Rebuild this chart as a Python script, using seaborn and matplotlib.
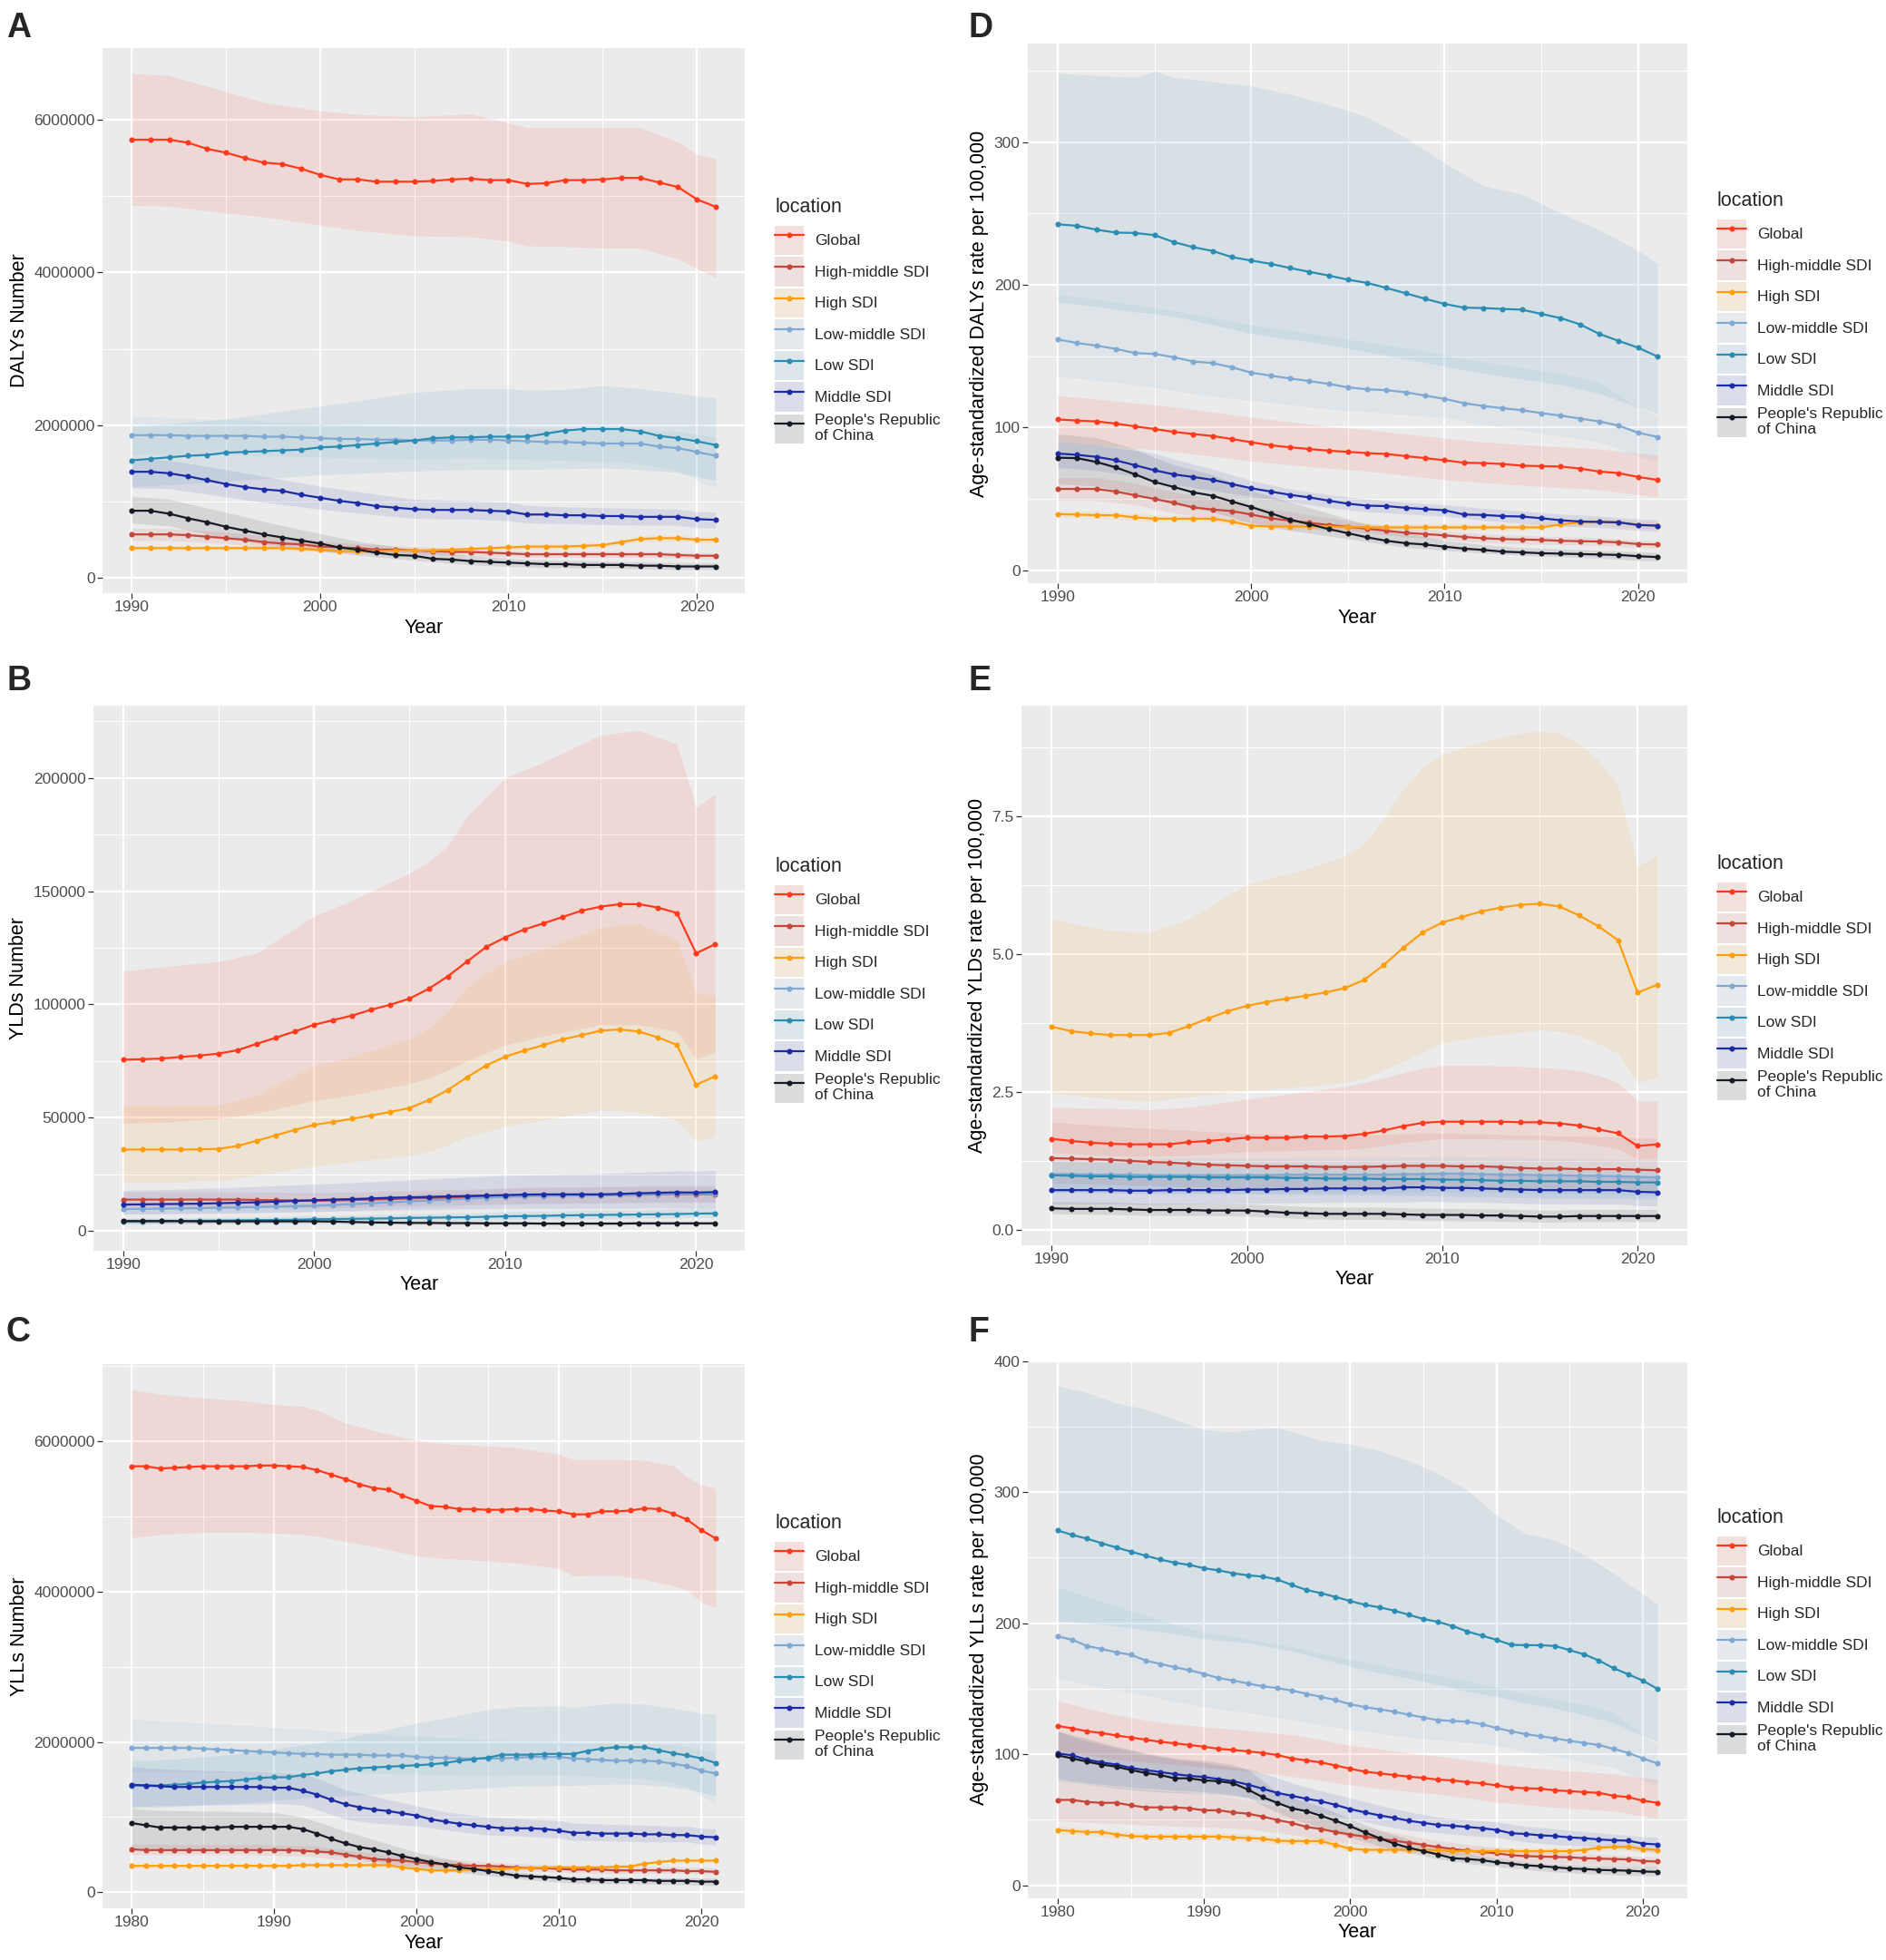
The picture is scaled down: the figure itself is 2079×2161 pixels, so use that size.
import numpy as np
import pandas as pd
import matplotlib
matplotlib.use("Agg")
import matplotlib.pyplot as plt
import seaborn as sns
from matplotlib.lines import Line2D
from matplotlib.patches import Patch
from matplotlib.legend_handler import HandlerTuple
from matplotlib.ticker import FixedLocator, FuncFormatter

# ---------------------------------------------------------------- data
YEARS = list(range(1990, 2022))
YEARS_LONG = list(range(1980, 2022))

LOCATIONS = ["Global", "High-middle SDI", "High SDI", "Low-middle SDI",
             "Low SDI", "Middle SDI", "People's Republic of China"]
LEGEND_LABELS = ["Global", "High-middle SDI", "High SDI", "Low-middle SDI",
                 "Low SDI", "Middle SDI", "People's Republic\nof China"]

# A: DALYs number (millions)
A_VAL = {
    "Global": [5.74, 5.74, 5.74, 5.70, 5.62, 5.57, 5.50, 5.44, 5.42, 5.36, 5.28, 5.22, 5.22, 5.19, 5.19, 5.19,
               5.20, 5.22, 5.23, 5.21, 5.21, 5.16, 5.17, 5.21, 5.21, 5.22, 5.24, 5.24, 5.18, 5.12, 4.96, 4.86],
    "High-middle SDI": [0.57, 0.57, 0.57, 0.56, 0.54, 0.52, 0.50, 0.47, 0.45, 0.44, 0.41, 0.40, 0.39, 0.37, 0.37, 0.36,
                        0.35, 0.34, 0.34, 0.33, 0.32, 0.31, 0.31, 0.31, 0.31, 0.31, 0.31, 0.31, 0.31, 0.30, 0.29, 0.29],
    "High SDI": [0.39, 0.39, 0.39, 0.39, 0.39, 0.39, 0.39, 0.39, 0.39, 0.38, 0.37, 0.35, 0.35, 0.35, 0.36, 0.36,
                 0.36, 0.37, 0.38, 0.39, 0.40, 0.41, 0.41, 0.41, 0.42, 0.43, 0.47, 0.51, 0.52, 0.52, 0.50, 0.50],
    "Low-middle SDI": [1.87, 1.87, 1.87, 1.86, 1.86, 1.86, 1.86, 1.85, 1.85, 1.84, 1.83, 1.82, 1.82, 1.81, 1.81, 1.80,
                       1.80, 1.80, 1.81, 1.81, 1.80, 1.79, 1.78, 1.78, 1.77, 1.76, 1.76, 1.76, 1.72, 1.70, 1.65, 1.60],
    "Low SDI": [1.54, 1.56, 1.58, 1.60, 1.61, 1.64, 1.65, 1.66, 1.67, 1.68, 1.71, 1.72, 1.74, 1.76, 1.78, 1.80,
                1.83, 1.84, 1.84, 1.85, 1.85, 1.85, 1.89, 1.93, 1.95, 1.95, 1.95, 1.92, 1.86, 1.83, 1.79, 1.74],
    "Middle SDI": [1.39, 1.39, 1.37, 1.33, 1.28, 1.23, 1.19, 1.16, 1.14, 1.09, 1.05, 1.01, 0.98, 0.94, 0.92, 0.90,
                   0.89, 0.89, 0.89, 0.88, 0.87, 0.83, 0.83, 0.82, 0.82, 0.81, 0.81, 0.80, 0.80, 0.80, 0.77, 0.76],
    "People's Republic of China": [0.88, 0.88, 0.84, 0.78, 0.73, 0.67, 0.62, 0.57, 0.53, 0.49, 0.45, 0.40, 0.37, 0.33,
                                   0.30, 0.29, 0.25, 0.24, 0.22, 0.21, 0.20, 0.19, 0.18, 0.18, 0.17, 0.17, 0.17, 0.16,
                                   0.16, 0.15, 0.15, 0.15],
}
A_BAND_YEARS = [1990, 1992, 1995, 1997, 2000, 2002, 2005, 2008, 2010, 2011, 2013, 2015, 2017, 2019, 2020, 2021]
A_HI = {
    "Global": [6.61, 6.58, 6.37, 6.23, 6.12, 6.07, 6.04, 6.08, 5.96, 5.90, 5.90, 5.90, 5.90, 5.71, 5.55, 5.49],
    "High-middle SDI": [0.65, 0.65, 0.60, 0.55, 0.48, 0.45, 0.41, 0.38, 0.36, 0.35, 0.35, 0.35, 0.35, 0.34, 0.33, 0.33],
    "High SDI": [0.42, 0.42, 0.42, 0.42, 0.40, 0.38, 0.39, 0.41, 0.43, 0.44, 0.45, 0.46, 0.55, 0.56, 0.54, 0.54],
    "Low-middle SDI": [2.12, 2.10, 2.07, 2.05, 2.02, 2.00, 1.98, 1.98, 1.97, 1.96, 1.95, 1.94, 1.94, 1.92, 1.88, 1.85],
    "Low SDI": [1.98, 2.02, 2.08, 2.15, 2.25, 2.32, 2.43, 2.48, 2.48, 2.46, 2.47, 2.52, 2.48, 2.42, 2.38, 2.36],
    "Middle SDI": [1.57, 1.54, 1.42, 1.33, 1.20, 1.13, 1.03, 1.01, 0.99, 0.95, 0.93, 0.92, 0.91, 0.90, 0.87, 0.86],
    "People's Republic of China": [1.07, 1.03, 0.86, 0.74, 0.58, 0.48, 0.37, 0.29, 0.26, 0.24, 0.23, 0.22, 0.21, 0.20,
                                   0.20, 0.20],
}
A_LO = {
    "Global": [4.88, 4.87, 4.78, 4.73, 4.62, 4.55, 4.48, 4.47, 4.41, 4.35, 4.34, 4.32, 4.32, 4.18, 4.05, 3.94],
    "High-middle SDI": [0.49, 0.49, 0.45, 0.40, 0.35, 0.33, 0.31, 0.29, 0.28, 0.27, 0.27, 0.27, 0.27, 0.26, 0.25, 0.25],
    "High SDI": [0.36, 0.36, 0.36, 0.36, 0.34, 0.32, 0.33, 0.35, 0.37, 0.38, 0.38, 0.40, 0.47, 0.48, 0.46, 0.46],
    "Low-middle SDI": [1.62, 1.62, 1.61, 1.60, 1.58, 1.57, 1.56, 1.57, 1.56, 1.55, 1.54, 1.52, 1.50, 1.40, 1.28, 1.18],
    "Low SDI": [1.20, 1.22, 1.27, 1.30, 1.35, 1.37, 1.40, 1.42, 1.42, 1.42, 1.43, 1.44, 1.42, 1.38, 1.33, 1.28],
    "Middle SDI": [1.18, 1.17, 1.06, 0.99, 0.90, 0.85, 0.78, 0.77, 0.75, 0.72, 0.71, 0.70, 0.69, 0.69, 0.66, 0.65],
    "People's Republic of China": [0.72, 0.68, 0.52, 0.44, 0.35, 0.30, 0.23, 0.17, 0.15, 0.14, 0.13, 0.13, 0.12, 0.11,
                                   0.11, 0.11],
}

# B: YLDs number (thousands)
B_VAL = {
    "Global": [75.6, 75.8, 76.1, 76.8, 77.4, 78.3, 79.8, 82.6, 85.3, 88.1, 91.0, 93.1, 95.1, 97.7, 99.9, 102.6,
               106.9, 112.4, 118.9, 125.3, 129.6, 133.1, 135.8, 138.6, 141.4, 143.2, 144.3, 144.3, 142.8, 140.4,
               122.6, 126.6],
    "High-middle SDI": [13.8, 13.8, 13.8, 13.8, 13.8, 13.8, 13.8, 13.6, 13.5, 13.4, 13.3, 13.4, 13.6, 13.8, 14.0, 14.3,
                        14.5, 14.7, 14.9, 15.2, 15.4, 15.6, 15.7, 15.8, 15.8, 15.8, 15.9, 16.0, 16.1, 16.2, 16.1, 16.2],
    "High SDI": [35.9, 35.9, 35.9, 35.9, 36.0, 36.2, 37.5, 39.8, 42.2, 44.6, 46.8, 48.1, 49.5, 51.0, 52.5, 54.3,
                 57.7, 62.2, 67.8, 73.0, 76.9, 79.6, 82.0, 84.6, 86.4, 88.4, 89.0, 88.0, 85.5, 82.1, 64.5, 68.3],
    "Low-middle SDI": [9.6, 9.7, 9.8, 9.9, 10.0, 10.2, 10.3, 10.5, 10.7, 10.9, 11.1, 11.4, 11.8, 12.2, 12.6, 13.0,
                       13.4, 13.8, 14.2, 14.6, 15.0, 15.2, 15.4, 15.5, 15.6, 15.7, 15.9, 16.1, 16.2, 16.3, 16.3, 16.4],
    "Low SDI": [4.2, 4.2, 4.3, 4.3, 4.4, 4.5, 4.6, 4.7, 4.8, 4.9, 5.1, 5.2, 5.3, 5.4, 5.5, 5.7,
                5.8, 5.9, 6.0, 6.2, 6.4, 6.5, 6.6, 6.8, 6.9, 7.0, 7.1, 7.2, 7.3, 7.4, 7.6, 7.7],
    "Middle SDI": [11.6, 11.7, 11.8, 11.9, 12.0, 12.2, 12.4, 12.6, 12.9, 13.2, 13.5, 13.8, 14.0, 14.3, 14.6, 14.8,
                   15.0, 15.2, 15.4, 15.6, 15.8, 16.0, 16.1, 16.1, 16.1, 16.1, 16.3, 16.6, 16.8, 17.0, 16.9, 17.1],
    "People's Republic of China": [4.3, 4.3, 4.3, 4.3, 4.2, 4.2, 4.2, 4.2, 4.2, 4.2, 4.2, 4.1, 3.9, 3.7, 3.6, 3.5,
                                   3.5, 3.4, 3.4, 3.3, 3.3, 3.3, 3.2, 3.2, 3.2, 3.2, 3.2, 3.3, 3.3, 3.3, 3.3, 3.3],
}
B_BAND_YEARS = [1990, 1992, 1995, 1997, 2000, 2002, 2005, 2006, 2007, 2008, 2010, 2012, 2015, 2017, 2019, 2020, 2021]
B_HI = {
    "Global": [114.8, 116.5, 119.0, 122.6, 139.0, 146.0, 158.0, 163.0, 170.0, 183.0, 200.0, 207.0, 219.0, 221.0,
               215.0, 187.0, 193.0],
    "High-middle SDI": [17.3, 17.3, 17.3, 17.1, 16.8, 17.1, 17.8, 18.0, 18.2, 18.4, 18.9, 19.2, 19.3, 19.5, 19.7,
                        19.6, 19.7],
    "High SDI": [55.3, 55.3, 55.5, 60.0, 72.8, 77.0, 84.8, 89.4, 96.8, 107.8, 118.9, 124.4, 134.0, 135.8, 128.0,
                 105.0, 104.0],
    "Low-middle SDI": [12.0, 12.2, 12.7, 13.0, 13.8, 14.7, 16.2, 16.7, 17.2, 17.7, 18.7, 19.2, 19.6, 20.1, 20.3,
                       20.3, 20.5],
    "Low SDI": [5.6, 5.7, 5.9, 6.2, 6.7, 7.0, 7.5, 7.7, 7.8, 7.9, 8.4, 8.7, 9.2, 9.4, 9.7, 10.0, 10.1],
    "Middle SDI": [17.9, 18.2, 18.9, 19.6, 20.6, 21.3, 22.5, 22.9, 23.3, 23.7, 24.5, 24.8, 25.2, 25.9, 26.5, 26.4, 26.7],
    "People's Republic of China": [5.3, 5.3, 5.2, 5.2, 5.2, 4.8, 4.4, 4.3, 4.3, 4.2, 4.1, 4.0, 4.0, 4.1, 4.1, 4.1, 4.1],
}
B_LO = {
    "Global": [47.5, 48.0, 49.5, 52.0, 57.5, 60.0, 65.0, 67.5, 71.0, 75.0, 82.0, 86.0, 91.0, 91.0, 88.0, 76.0, 79.0],
    "High-middle SDI": [10.5, 10.5, 10.5, 10.3, 10.0, 10.3, 11.0, 11.2, 11.4, 11.6, 12.0, 12.3, 12.4, 12.6, 12.8,
                        12.7, 12.8],
    "High SDI": [21.2, 21.5, 22.1, 24.5, 28.6, 30.5, 33.2, 35.0, 38.0, 41.5, 46.1, 49.0, 53.4, 52.5, 48.8, 39.6, 41.5],
    "Low-middle SDI": [7.4, 7.5, 7.8, 8.1, 8.6, 9.1, 10.0, 10.3, 10.6, 10.9, 11.6, 11.9, 12.1, 12.4, 12.6, 12.6, 12.7],
    "Low SDI": [3.1, 3.2, 3.3, 3.5, 3.8, 3.9, 4.2, 4.3, 4.4, 4.5, 4.8, 5.0, 5.3, 5.4, 5.6, 5.8, 5.9],
    "Middle SDI": [7.4, 7.5, 7.8, 8.0, 8.5, 8.8, 9.3, 9.4, 9.5, 9.6, 9.8, 9.9, 9.9, 10.0, 10.1, 10.0, 10.1],
    "People's Republic of China": [3.3, 3.3, 3.3, 3.3, 3.3, 3.1, 2.8, 2.7, 2.6, 2.6, 2.6, 2.5, 2.5, 2.6, 2.6, 2.6, 2.6],
}

# C: YLLs number (millions), 1980-2021
C_VAL = {
    "Global": [5.67, 5.67, 5.64, 5.65, 5.66, 5.67, 5.67, 5.67, 5.67, 5.68, 5.68, 5.67, 5.66, 5.62, 5.56, 5.50,
               5.43, 5.38, 5.36, 5.28, 5.21, 5.14, 5.13, 5.10, 5.10, 5.09, 5.09, 5.10, 5.10, 5.08, 5.07, 5.03,
               5.03, 5.07, 5.07, 5.08, 5.11, 5.10, 5.04, 4.96, 4.82, 4.71],
    "High-middle SDI": [0.57, 0.56, 0.56, 0.56, 0.56, 0.56, 0.56, 0.56, 0.56, 0.56, 0.56, 0.56, 0.55, 0.54, 0.53,
                        0.50, 0.47, 0.44, 0.43, 0.42, 0.40, 0.38, 0.37, 0.36, 0.35, 0.35, 0.34, 0.33, 0.32, 0.32,
                        0.31, 0.30, 0.30, 0.30, 0.29, 0.29, 0.29, 0.29, 0.29, 0.28, 0.28, 0.27],
    "High SDI": [0.35, 0.35, 0.35, 0.35, 0.35, 0.35, 0.35, 0.35, 0.35, 0.35, 0.35, 0.35, 0.36, 0.36, 0.36, 0.36,
                 0.36, 0.36, 0.36, 0.33, 0.31, 0.29, 0.29, 0.29, 0.30, 0.31, 0.31, 0.32, 0.32, 0.33, 0.33, 0.33,
                 0.33, 0.33, 0.34, 0.34, 0.38, 0.40, 0.42, 0.42, 0.42, 0.42],
    "Low-middle SDI": [1.92, 1.92, 1.92, 1.92, 1.92, 1.91, 1.90, 1.89, 1.88, 1.87, 1.86, 1.85, 1.84, 1.84, 1.83,
                       1.83, 1.83, 1.82, 1.82, 1.82, 1.80, 1.79, 1.79, 1.78, 1.78, 1.78, 1.78, 1.79, 1.80, 1.80,
                       1.80, 1.78, 1.77, 1.76, 1.75, 1.75, 1.75, 1.74, 1.71, 1.68, 1.62, 1.58],
    "Low SDI": [1.42, 1.42, 1.42, 1.43, 1.44, 1.46, 1.47, 1.48, 1.50, 1.52, 1.53, 1.53, 1.56, 1.58, 1.61, 1.63,
                1.65, 1.66, 1.67, 1.68, 1.69, 1.70, 1.72, 1.75, 1.77, 1.79, 1.83, 1.83, 1.83, 1.84, 1.84, 1.84,
                1.88, 1.91, 1.93, 1.93, 1.93, 1.89, 1.85, 1.82, 1.78, 1.72],
    "Middle SDI": [1.43, 1.42, 1.41, 1.40, 1.40, 1.40, 1.40, 1.40, 1.40, 1.40, 1.39, 1.39, 1.35, 1.30, 1.23, 1.17,
                   1.13, 1.10, 1.08, 1.05, 1.02, 0.97, 0.94, 0.91, 0.89, 0.87, 0.85, 0.85, 0.85, 0.84, 0.82, 0.79,
                   0.79, 0.78, 0.78, 0.78, 0.77, 0.77, 0.76, 0.76, 0.74, 0.73],
    "People's Republic of China": [0.92, 0.89, 0.86, 0.86, 0.86, 0.86, 0.86, 0.87, 0.87, 0.87, 0.87, 0.87, 0.84,
                                   0.78, 0.71, 0.65, 0.60, 0.57, 0.53, 0.48, 0.44, 0.40, 0.37, 0.33, 0.31, 0.28,
                                   0.25, 0.22, 0.21, 0.20, 0.19, 0.17, 0.17, 0.16, 0.16, 0.16, 0.16, 0.15, 0.15,
                                   0.15, 0.14, 0.14],
}
C_BAND_YEARS = [1980, 1982, 1985, 1988, 1990, 1992, 1993, 1995, 1997, 2000, 2002, 2005, 2007, 2010, 2011, 2014,
                2016, 2018, 2019, 2020, 2021]
C_HI = {
    "Global": [6.69, 6.63, 6.58, 6.54, 6.49, 6.47, 6.42, 6.25, 6.14, 6.02, 5.97, 5.94, 5.92, 5.83, 5.76, 5.76,
               5.75, 5.68, 5.53, 5.42, 5.38],
    "High-middle SDI": [0.64, 0.64, 0.64, 0.64, 0.63, 0.62, 0.61, 0.56, 0.52, 0.47, 0.44, 0.40, 0.38, 0.36, 0.35,
                        0.34, 0.34, 0.34, 0.33, 0.33, 0.32],
    "High SDI": [0.37, 0.37, 0.37, 0.38, 0.38, 0.38, 0.38, 0.38, 0.38, 0.33, 0.31, 0.33, 0.34, 0.35, 0.35, 0.36,
                 0.40, 0.44, 0.44, 0.44, 0.44],
    "Low-middle SDI": [2.31, 2.28, 2.25, 2.22, 2.19, 2.17, 2.16, 2.13, 2.11, 2.08, 2.06, 2.03, 2.02, 2.01, 2.00,
                       1.99, 1.98, 1.96, 1.94, 1.90, 1.87],
    "Low SDI": [1.75, 1.76, 1.80, 1.85, 1.90, 1.96, 1.99, 2.05, 2.13, 2.25, 2.32, 2.43, 2.47, 2.48, 2.46, 2.52,
                2.50, 2.45, 2.42, 2.38, 2.37],
    "Middle SDI": [1.67, 1.64, 1.62, 1.61, 1.60, 1.58, 1.52, 1.36, 1.28, 1.15, 1.07, 1.00, 0.98, 0.95, 0.92, 0.90,
                   0.89, 0.88, 0.88, 0.85, 0.84],
    "People's Republic of China": [1.11, 1.09, 1.08, 1.07, 1.06, 1.00, 0.94, 0.81, 0.70, 0.53, 0.45, 0.33, 0.27,
                                   0.22, 0.21, 0.20, 0.19, 0.19, 0.19, 0.19, 0.19],
}
C_LO = {
    "Global": [4.72, 4.76, 4.79, 4.79, 4.78, 4.76, 4.74, 4.67, 4.60, 4.48, 4.44, 4.41, 4.38, 4.31, 4.21, 4.22,
               4.16, 4.08, 4.02, 3.86, 3.79],
    "High-middle SDI": [0.50, 0.50, 0.50, 0.50, 0.49, 0.48, 0.47, 0.42, 0.38, 0.34, 0.32, 0.30, 0.28, 0.27, 0.26,
                        0.25, 0.25, 0.25, 0.25, 0.24, 0.24],
    "High SDI": [0.33, 0.33, 0.33, 0.34, 0.34, 0.34, 0.34, 0.34, 0.34, 0.29, 0.27, 0.29, 0.30, 0.31, 0.31, 0.32,
                 0.36, 0.40, 0.40, 0.40, 0.40],
    "Low-middle SDI": [1.60, 1.60, 1.60, 1.61, 1.61, 1.60, 1.60, 1.59, 1.58, 1.57, 1.56, 1.55, 1.56, 1.56, 1.55,
                       1.53, 1.51, 1.46, 1.40, 1.28, 1.18],
    "Low SDI": [1.12, 1.13, 1.16, 1.19, 1.22, 1.25, 1.26, 1.28, 1.30, 1.34, 1.36, 1.39, 1.41, 1.42, 1.42, 1.44,
                1.43, 1.40, 1.37, 1.33, 1.28],
    "Middle SDI": [1.14, 1.15, 1.16, 1.17, 1.18, 1.16, 1.10, 0.97, 0.92, 0.88, 0.83, 0.76, 0.75, 0.72, 0.69, 0.68,
                   0.67, 0.67, 0.67, 0.64, 0.63],
    "People's Republic of China": [0.58, 0.58, 0.58, 0.58, 0.58, 0.56, 0.53, 0.47, 0.41, 0.33, 0.28, 0.22, 0.18,
                                   0.13, 0.12, 0.11, 0.11, 0.10, 0.10, 0.09, 0.09],
}

# D: age-standardized DALYs rate per 100,000
D_VAL = {
    "Global": [105.7, 104.9, 104.3, 102.8, 100.8, 99.0, 97.0, 95.5, 94.1, 92.0, 89.7, 87.6, 86.2, 85.0, 83.8, 83.0,
               82.1, 81.5, 80.0, 78.6, 77.1, 75.4, 75.1, 74.5, 73.3, 73.0, 72.7, 71.3, 69.2, 68.1, 65.4, 63.4],
    "High-middle SDI": [57.0, 57.0, 57.0, 55.2, 52.6, 50.0, 47.3, 44.1, 42.6, 41.5, 39.1, 36.5, 34.8, 33.3, 31.8,
                        30.4, 29.2, 27.7, 26.3, 25.4, 24.5, 23.4, 22.5, 21.9, 21.6, 21.3, 20.7, 20.4, 20.2, 19.6,
                        18.4, 18.1],
    "High SDI": [39.4, 39.1, 38.6, 38.6, 37.1, 36.2, 36.2, 36.2, 36.2, 34.2, 31.3, 30.7, 30.7, 30.7, 30.7, 30.4,
                 30.1, 30.1, 30.1, 30.1, 30.1, 30.1, 30.1, 30.1, 30.1, 30.1, 32.1, 33.6, 34.2, 33.6, 31.8, 31.3],
    "Low-middle SDI": [161.8, 159.2, 157.4, 155.1, 152.2, 151.6, 149.3, 146.3, 145.2, 142.2, 138.5, 136.4, 134.4,
                       132.6, 130.6, 128.2, 126.8, 126.2, 124.7, 122.4, 120.1, 117.1, 115.1, 113.6, 112.2, 110.1,
                       108.4, 106.3, 104.3, 101.4, 96.4, 93.5],
    "Low SDI": [242.4, 241.3, 238.6, 236.6, 236.3, 234.8, 229.9, 226.4, 223.7, 219.4, 217.0, 214.7, 211.8, 209.1,
                206.5, 203.6, 201.3, 197.8, 194.0, 190.2, 186.6, 184.0, 183.7, 183.1, 182.6, 179.6, 176.7, 172.3,
                165.6, 160.7, 156.0, 149.8],
    "Middle SDI": [81.8, 80.9, 79.5, 77.1, 73.6, 70.1, 67.2, 65.4, 63.4, 60.5, 57.5, 55.2, 52.9, 51.1, 48.8, 46.7,
                   45.3, 45.0, 43.8, 42.9, 42.1, 39.1, 38.8, 38.0, 37.7, 36.5, 35.1, 34.2, 33.9, 33.6, 31.8, 31.3],
    "People's Republic of China": [78.9, 78.6, 75.9, 72.1, 67.2, 61.9, 58.4, 54.6, 52.3, 48.2, 44.4, 40.0, 35.6,
                                   32.4, 28.9, 26.0, 23.1, 20.7, 19.0, 18.1, 16.6, 15.2, 14.3, 13.1, 12.6, 12.0,
                                   11.7, 11.4, 11.1, 10.8, 9.9, 9.3],
}
D_BAND_YEARS = [1990, 1992, 1994, 1995, 1996, 1998, 2000, 2002, 2004, 2006, 2008, 2010, 2012, 2014, 2016, 2018,
                2020, 2021]
D_HI = {
    "Global": [122.4, 120, 117, 116, 114.5, 111, 107.2, 104, 101, 98.5, 95.5, 92.6, 90, 88, 86.5, 85, 82, 80.9],
    "High-middle SDI": [65, 65, 61, 58, 55, 50, 45, 41, 37, 33, 29.5, 27.5, 25.5, 24.5, 23.5, 23, 21, 20.8],
    "High SDI": [42, 41.3, 40, 38.8, 38.5, 38.5, 33.8, 33.2, 33.2, 32.6, 32.6, 32.6, 32.6, 32.6, 34.8, 37, 34.5, 34],
    "Low-middle SDI": [193, 190, 186, 184, 182, 177, 172, 168, 164, 160, 156, 151, 146, 142, 138, 132, 114, 108],
    "Low SDI": [348.2, 346.7, 345.3, 349.6, 345.3, 342.3, 339.4, 333.6, 326.3, 317.5, 302.9, 285.4, 269.3, 263.5,
                250.3, 238.6, 224.0, 215.3],
    "Middle SDI": [90, 88, 84, 82, 78, 71, 63, 57, 53, 50, 47.5, 46, 43.5, 41.5, 39.5, 38, 36, 35.6],
    "People's Republic of China": [95.5, 93, 85, 79, 74, 67, 56, 48, 40, 32, 26, 21, 18, 16, 15, 14, 13, 12.5],
}
D_LO = {
    "Global": [89.7, 88, 85.5, 84.5, 83, 80, 76.5, 74, 71.5, 69.5, 66.5, 63.4, 61.5, 59.5, 58, 56.5, 53, 51.1],
    "High-middle SDI": [49, 49, 46, 43, 40, 37, 33.5, 31, 28, 26, 23.5, 21.5, 19.5, 18.5, 18, 17.5, 16, 15.5],
    "High SDI": [37, 36.5, 35, 34, 34, 34, 29, 28.5, 28.5, 28, 28, 28, 28, 28, 30, 31.8, 29.5, 29],
    "Low-middle SDI": [136, 133, 130, 128, 126, 122, 119, 116, 113, 111, 109, 107, 102, 98, 94, 90, 80, 76],
    "Low SDI": [188, 185, 181, 180, 178, 172, 166, 162, 158, 153, 148, 143, 138, 134, 130, 124, 114, 110],
    "Middle SDI": [72, 70, 66, 63, 60, 56, 51.7, 48, 44, 41, 39.5, 38, 35, 33, 31, 30, 28, 27],
    "People's Republic of China": [60.5, 59, 54, 50, 46, 41, 33, 28, 24, 20, 16, 14, 12, 10.5, 9.5, 8.5, 7, 6.5],
}

# E: age-standardized YLDs rate per 100,000
E_VAL = {
    "Global": [1.65, 1.61, 1.58, 1.56, 1.55, 1.55, 1.55, 1.59, 1.61, 1.64, 1.67, 1.67, 1.67, 1.69, 1.69, 1.70,
               1.74, 1.80, 1.88, 1.94, 1.96, 1.96, 1.96, 1.96, 1.95, 1.95, 1.93, 1.89, 1.82, 1.75, 1.52, 1.55],
    "High-middle SDI": [1.30, 1.29, 1.28, 1.27, 1.25, 1.23, 1.22, 1.20, 1.18, 1.17, 1.16, 1.15, 1.15, 1.15, 1.14,
                        1.14, 1.14, 1.15, 1.16, 1.16, 1.16, 1.15, 1.15, 1.14, 1.12, 1.11, 1.11, 1.10, 1.10, 1.10,
                        1.09, 1.08],
    "High SDI": [3.68, 3.60, 3.56, 3.53, 3.53, 3.53, 3.57, 3.69, 3.83, 3.96, 4.06, 4.13, 4.19, 4.24, 4.30, 4.38,
                 4.53, 4.80, 5.11, 5.39, 5.57, 5.67, 5.77, 5.84, 5.89, 5.91, 5.86, 5.70, 5.50, 5.25, 4.30, 4.44],
    "Low-middle SDI": [1.01, 1.01, 1.00, 1.00, 1.00, 0.99, 0.99, 0.99, 0.99, 0.99, 0.99, 0.99, 1.00, 1.00, 1.00,
                       1.00, 1.00, 1.00, 1.01, 1.01, 1.02, 1.02, 1.01, 1.00, 1.00, 0.99, 0.99, 0.98, 0.98, 0.97,
                       0.96, 0.95],
    "Low SDI": [0.99, 0.98, 0.97, 0.97, 0.96, 0.96, 0.96, 0.96, 0.95, 0.95, 0.95, 0.95, 0.94, 0.94, 0.93, 0.93,
                0.93, 0.92, 0.92, 0.92, 0.91, 0.91, 0.90, 0.89, 0.89, 0.88, 0.88, 0.88, 0.87, 0.87, 0.86, 0.86],
    "Middle SDI": [0.72, 0.72, 0.72, 0.72, 0.71, 0.71, 0.72, 0.72, 0.72, 0.72, 0.73, 0.73, 0.74, 0.74, 0.75, 0.75,
                   0.75, 0.75, 0.77, 0.77, 0.76, 0.76, 0.75, 0.74, 0.73, 0.72, 0.72, 0.72, 0.72, 0.72, 0.69, 0.68],
    "People's Republic of China": [0.39, 0.38, 0.38, 0.38, 0.37, 0.36, 0.36, 0.36, 0.35, 0.35, 0.35, 0.33, 0.31,
                                   0.30, 0.29, 0.29, 0.29, 0.29, 0.28, 0.27, 0.27, 0.27, 0.26, 0.26, 0.25, 0.24,
                                   0.24, 0.25, 0.25, 0.25, 0.25, 0.25],
}
E_BAND_YEARS = [1990, 1993, 1995, 1997, 2000, 2003, 2005, 2006, 2007, 2008, 2009, 2010, 2012, 2014, 2015, 2016,
                2017, 2018, 2019, 2020, 2021]
E_HI = {
    "Global": [2.22, 2.20, 2.18, 2.22, 2.37, 2.50, 2.60, 2.67, 2.75, 2.85, 2.93, 2.98, 2.98, 2.96, 2.94, 2.92,
               2.88, 2.80, 2.67, 2.33, 2.33],
    "High-middle SDI": [1.95, 1.88, 1.84, 1.80, 1.75, 1.72, 1.72, 1.72, 1.73, 1.74, 1.75, 1.75, 1.74, 1.72, 1.71,
                        1.70, 1.70, 1.69, 1.68, 1.66, 1.66],
    "High SDI": [5.63, 5.42, 5.40, 5.63, 6.27, 6.54, 6.77, 6.99, 7.45, 7.98, 8.39, 8.62, 8.85, 9.00, 9.04, 9.00,
                 8.81, 8.51, 8.05, 6.58, 6.80],
    "Low-middle SDI": [1.32, 1.31, 1.30, 1.30, 1.30, 1.31, 1.31, 1.31, 1.31, 1.32, 1.32, 1.33, 1.32, 1.31, 1.30,
                       1.30, 1.29, 1.29, 1.28, 1.27, 1.26],
    "Low SDI": [1.24, 1.22, 1.21, 1.21, 1.20, 1.19, 1.18, 1.18, 1.18, 1.17, 1.17, 1.16, 1.15, 1.14, 1.13, 1.13,
                1.13, 1.12, 1.12, 1.11, 1.11],
    "Middle SDI": [0.99, 0.99, 0.98, 0.99, 1.00, 1.01, 1.02, 1.02, 1.02, 1.02, 1.04, 1.03, 1.02, 1.00, 0.99, 0.99,
                   0.99, 0.99, 0.99, 0.96, 0.95],
    "People's Republic of China": [0.51, 0.50, 0.48, 0.48, 0.47, 0.42, 0.41, 0.41, 0.41, 0.40, 0.39, 0.39, 0.38,
                                   0.37, 0.36, 0.36, 0.37, 0.37, 0.37, 0.37, 0.37],
}
E_LO = {
    "Global": [1.40, 1.34, 1.33, 1.35, 1.42, 1.44, 1.46, 1.48, 1.53, 1.58, 1.62, 1.65, 1.65, 1.64, 1.64, 1.62,
               1.59, 1.53, 1.47, 1.28, 1.30],
    "High-middle SDI": [0.85, 0.82, 0.80, 0.78, 0.76, 0.75, 0.75, 0.75, 0.75, 0.76, 0.76, 0.76, 0.75, 0.73, 0.72,
                        0.72, 0.72, 0.71, 0.71, 0.70, 0.70],
    "High SDI": [2.48, 2.37, 2.33, 2.41, 2.52, 2.60, 2.67, 2.75, 2.90, 3.05, 3.22, 3.39, 3.50, 3.58, 3.62, 3.60,
                 3.51, 3.38, 3.20, 2.67, 2.75],
    "Low-middle SDI": [0.68, 0.67, 0.66, 0.66, 0.66, 0.67, 0.67, 0.67, 0.67, 0.68, 0.68, 0.69, 0.68, 0.67, 0.66,
                       0.66, 0.65, 0.65, 0.64, 0.63, 0.62],
    "Low SDI": [0.69, 0.67, 0.66, 0.66, 0.65, 0.64, 0.63, 0.63, 0.63, 0.62, 0.62, 0.61, 0.60, 0.59, 0.58, 0.58,
                0.58, 0.57, 0.57, 0.56, 0.56],
    "Middle SDI": [0.47, 0.47, 0.46, 0.47, 0.48, 0.49, 0.50, 0.50, 0.50, 0.50, 0.52, 0.51, 0.50, 0.48, 0.47, 0.47,
                   0.47, 0.47, 0.47, 0.44, 0.43],
    "People's Republic of China": [0.29, 0.28, 0.26, 0.26, 0.25, 0.20, 0.19, 0.19, 0.19, 0.18, 0.17, 0.17, 0.16,
                                   0.15, 0.14, 0.14, 0.15, 0.15, 0.15, 0.15, 0.15],
}

# F: age-standardized YLLs rate per 100,000, 1980-2021
F_VAL = {
    "Global": [121.6, 119.7, 117.5, 116.2, 114.3, 112.7, 111.1, 109.5, 108.3, 107.0, 105.7, 104.1, 103.2, 102.2,
               101.0, 99.4, 96.8, 95.3, 93.7, 91.4, 88.9, 86.7, 85.4, 84.1, 82.9, 81.9, 80.6, 80.0, 78.7, 77.8,
               76.2, 74.6, 74.0, 73.7, 72.4, 71.8, 71.1, 70.5, 68.3, 67.3, 64.5, 62.9],
    "High-middle SDI": [65.1, 65.1, 63.5, 62.9, 62.9, 61.0, 59.4, 59.4, 59.4, 58.7, 57.2, 57.2, 55.6, 54.6, 52.4,
                        49.8, 47.6, 44.5, 42.9, 40.6, 38.7, 37.1, 35.6, 34.0, 32.4, 30.8, 29.2, 27.6, 26.4, 25.4,
                        24.4, 22.9, 22.2, 21.9, 21.6, 21.3, 20.6, 20.3, 20.0, 19.7, 18.4, 18.1],
    "High SDI": [42.2, 41.3, 40.6, 40.6, 38.7, 37.5, 37.1, 37.1, 37.1, 37.1, 37.1, 37.1, 36.5, 35.9, 35.6, 34.0,
                 33.7, 33.7, 33.7, 30.8, 27.9, 27.0, 27.0, 27.0, 27.0, 27.0, 26.7, 26.0, 26.0, 26.0, 26.0, 26.0,
                 26.0, 26.0, 26.0, 26.0, 27.0, 28.6, 29.2, 29.5, 27.6, 27.0],
    "Low-middle SDI": [189.9, 187.3, 182.6, 180.3, 177.8, 175.9, 171.5, 168.9, 166.4, 164.1, 161.3, 158.1, 156.2,
                       154.0, 151.8, 150.5, 148.6, 146.1, 143.8, 141.3, 138.1, 135.9, 134.3, 132.4, 130.2, 128.0,
                       126.0, 125.4, 124.8, 122.9, 120.0, 117.5, 115.3, 113.7, 112.1, 110.2, 108.6, 107.0, 104.1,
                       101.0, 96.8, 93.0],
    "Low SDI": [270.8, 267.3, 264.5, 261.0, 257.8, 254.6, 251.5, 248.6, 246.1, 244.5, 241.9, 240.3, 238.1, 236.5,
                235.6, 233.4, 229.2, 225.4, 222.9, 220.0, 216.9, 214.0, 212.1, 209.6, 206.4, 203.2, 201.0, 197.8,
                193.7, 190.5, 187.3, 183.5, 183.2, 183.2, 182.6, 179.4, 176.2, 171.5, 165.7, 161.0, 156.2, 149.9],
    "Middle SDI": [100.6, 99.1, 95.9, 93.7, 92.1, 89.5, 87.9, 86.4, 84.8, 83.5, 82.6, 81.0, 79.4, 76.8, 73.7, 70.5,
                   68.3, 66.0, 64.1, 61.3, 58.1, 55.6, 53.3, 51.4, 49.2, 47.6, 46.0, 45.4, 44.5, 43.5, 42.2, 39.7,
                   39.1, 38.1, 37.5, 36.5, 35.9, 34.9, 34.3, 34.0, 31.8, 31.1],
    "People's Republic of China": [99.1, 96.8, 94.3, 92.1, 90.5, 87.9, 85.7, 84.1, 81.6, 81.6, 80.0, 79.4, 77.8,
                                   73.0, 67.3, 62.9, 58.7, 56.5, 53.0, 49.2, 45.1, 40.3, 35.9, 31.8, 28.6, 26.0,
                                   23.5, 20.6, 20.0, 19.1, 17.5, 16.5, 15.2, 14.6, 13.7, 12.7, 12.4, 11.7, 11.4,
                                   11.1, 10.5, 10.2],
}
F_BAND_YEARS = [1980, 1982, 1984, 1986, 1988, 1990, 1992, 1993, 1995, 1996, 1998, 2000, 2002, 2004, 2006, 2008,
                2010, 2012, 2014, 2016, 2018, 2020, 2021]
F_HI = {
    "Global": [141, 135, 130, 126, 123, 121, 119, 118, 116, 115, 111, 107, 104, 101, 98.5, 95.5, 92.6, 90, 88,
               86.5, 85, 82, 81],
    "High-middle SDI": [79.4, 77, 75, 73, 71.5, 69.9, 67, 65, 60, 57, 52, 46, 42, 38, 34, 31, 29.2, 26.5, 25, 24,
                        23, 21.8, 21.6],
    "High SDI": [45, 43.5, 41.5, 40, 40, 40, 39.5, 39, 37, 36.5, 36.5, 30.5, 29.5, 29.5, 29, 28.5, 28.5, 28.5,
                 28.5, 29.5, 32, 30, 29.5],
    "Low-middle SDI": [228, 220, 213, 206, 199, 193, 190, 188, 184, 182, 177, 172, 168, 164, 160, 156, 151, 146,
                       142, 138, 132, 114, 108],
    "Low SDI": [381, 376, 368, 363.5, 355.6, 347.7, 346, 347.5, 349.2, 346, 339.7, 336.6, 331.8, 323.9, 314.3,
                301.6, 282.6, 268.3, 263.5, 252.4, 238.1, 222.3, 214.3],
    "Middle SDI": [117.5, 110, 105, 100, 96, 93.7, 90, 89, 82, 78, 72, 66.7, 61, 56, 52, 50, 48.3, 45, 43, 41, 39,
                   37, 36.5],
    "People's Republic of China": [117.5, 112, 106, 101, 97, 95.3, 92, 88, 71.4, 67, 60, 50.8, 42, 35, 29, 24, 20.6,
                                   18, 16.5, 15.5, 15, 14.5, 14.3],
}
F_LO = {
    "Global": [103, 99, 96, 94, 92, 90, 88, 87, 84.5, 83, 80, 76.5, 74, 71.5, 69.5, 66.5, 63.4, 61.5, 59.5, 58,
               56.5, 53, 51],
    "High-middle SDI": [49.2, 48, 47, 46, 45, 44.5, 43.5, 43, 40, 38.5, 35, 31.8, 29, 26.5, 24, 21.5, 19.7, 18, 17,
                        16, 15.5, 14.5, 14.3],
    "High SDI": [39.5, 38, 36, 34.5, 34.5, 34.5, 34, 33.5, 31.5, 31, 31, 25.5, 24.5, 24.5, 24, 23.5, 23.5, 23.5,
                 23.5, 24.5, 27, 25, 24.5],
    "Low-middle SDI": [158, 153, 149, 145, 140, 136, 133, 132, 128, 126, 122, 119, 116, 113, 111, 109, 107, 102, 98,
                       94, 90, 80, 76],
    "Low SDI": [202, 200, 198, 195, 192, 188, 186, 185, 181, 179, 173, 167, 162, 158, 153, 148, 144, 139, 135, 130,
                124, 114, 110],
    "Middle SDI": [81, 78, 76, 74, 72.5, 71.4, 69, 67, 62, 59, 55, 50.8, 46, 42, 40, 38, 36.5, 33, 31, 30, 28.5, 26,
                   25.4],
    "People's Republic of China": [79.4, 77, 74, 72, 70.5, 69.9, 68, 66.7, 55.6, 51, 44, 36.5, 30, 25, 20, 16.5,
                                   14.3, 12, 10, 9, 8, 7.2, 7],
}

# ---------------------------------------------------------------- style
PALETTE = {
    "Global": "#FF3A1C",
    "High-middle SDI": "#C8453A",
    "High SDI": "#FF9E0D",
    "Low-middle SDI": "#7FA8D2",
    "Low SDI": "#2B8DB3",
    "Middle SDI": "#1C2BA6",
    "People's Republic of China": "#161B26",
}
BAND_ALPHA = 0.1

sns.set_theme(style="darkgrid", rc={
    "axes.facecolor": "#EBEBEB",
    "grid.color": "white",
    "figure.facecolor": "white",
})
plt.rcParams["font.family"] = ["Liberation Sans", "DejaVu Sans"]

W, H = 2079, 2161
fig = plt.figure(figsize=(W / 100, H / 100), dpi=100)


def px_axes(left, top, right, bottom):
    return fig.add_axes([left / W, 1 - bottom / H, (right - left) / W, (bottom - top) / H])


def draw_panel(ax, years, values, band_years, lower, upper, scale, ylim, yticks, yminor,
               ylabel, fmt, xlim, xticks, xminor):
    for loc in LOCATIONS:
        ax.fill_between(band_years, np.array(lower[loc]) * scale, np.array(upper[loc]) * scale,
                        color=PALETTE[loc], alpha=BAND_ALPHA, linewidth=0, zorder=1)
    frames = [pd.DataFrame({"year": years, "value": np.array(values[loc]) * scale, "location": loc})
              for loc in LOCATIONS]
    df = pd.concat(frames, ignore_index=True)
    sns.lineplot(data=df, x="year", y="value", hue="location", hue_order=LOCATIONS, palette=PALETTE,
                 marker="o", markersize=4.4, markeredgewidth=0, linewidth=1.6, estimator=None,
                 legend=False, ax=ax, zorder=3)
    ax.set_xlim(*xlim)
    ax.set_ylim(*ylim)
    ax.xaxis.set_major_locator(FixedLocator(xticks))
    ax.xaxis.set_minor_locator(FixedLocator(xminor))
    ax.yaxis.set_major_locator(FixedLocator(yticks))
    ax.yaxis.set_minor_locator(FixedLocator(yminor))
    ax.yaxis.set_major_formatter(FuncFormatter(lambda v, p: fmt.format(v)))
    ax.grid(which="major", color="white", linewidth=1.6)
    ax.grid(which="minor", color="white", linewidth=0.7)
    ax.tick_params(which="major", labelsize=12.5, labelcolor="#4D4D4D", color="#333333",
                   length=4, width=0.9, pad=2, bottom=True, left=True)
    ax.tick_params(which="minor", length=0)
    ax.set_xlabel("Year", fontsize=15.5, color="black", labelpad=3)
    ax.set_ylabel(ylabel, fontsize=15.5, color="black", labelpad=4)
    for s in ax.spines.values():
        s.set_visible(False)


def add_legend(x, y):
    handles = []
    for loc in LOCATIONS:
        c = PALETTE[loc]
        handles.append((Patch(facecolor="#F2F2F2", edgecolor="none"),
                        Patch(facecolor=c, alpha=BAND_ALPHA, edgecolor="none"),
                        Line2D([], [], color=c, lw=1.6, marker="o", ms=4.4, mew=0)))
    leg = fig.legend(handles, LEGEND_LABELS, handler_map={tuple: HandlerTuple(ndivide=1, pad=0)},
                     loc="upper left", bbox_to_anchor=(x / W, 1 - y / H), frameon=False,
                     title="location", title_fontsize=15.5, fontsize=12.5, handlelength=1.85,
                     handleheight=2.5, labelspacing=0.12, handletextpad=0.7, borderpad=0,
                     borderaxespad=0, alignment="left")
    # gap between the title and the first key, as in the ggplot legend
    leg._legend_box.sep = 7
    return leg


XL_SHORT = (1988.45, 2022.55)
XL_LONG = (1977.95, 2023.05)
XT_SHORT = [1990, 2000, 2010, 2020]
XM_SHORT = [1995, 2005, 2015]
XT_LONG = [1980, 1990, 2000, 2010, 2020]
XM_LONG = [1985, 1995, 2005, 2015]

# A
ax = px_axes(113, 53, 821, 654)
draw_panel(ax, YEARS, A_VAL, A_BAND_YEARS, A_LO, A_HI, 1e6, (-0.2e6, 6.94e6),
           [0, 2e6, 4e6, 6e6], [1e6, 3e6, 5e6], "DALYs Number", "{:.0f}",
           XL_SHORT, XT_SHORT, XM_SHORT)
add_legend(854, 218)

# B
ax = px_axes(103, 778, 821, 1379)
draw_panel(ax, YEARS, B_VAL, B_BAND_YEARS, B_LO, B_HI, 1e3, (-8800, 232000),
           [0, 50000, 100000, 150000, 200000], [25000, 75000, 125000, 175000, 225000],
           "YLDs Number", "{:.0f}", XL_SHORT, XT_SHORT, XM_SHORT)
add_legend(854, 945)

# C
ax = px_axes(113, 1504, 821, 2104)
draw_panel(ax, YEARS_LONG, C_VAL, C_BAND_YEARS, C_LO, C_HI, 1e6, (-0.215e6, 7.03e6),
           [0, 2e6, 4e6, 6e6], [1e6, 3e6, 5e6, 7e6], "YLLs Number", "{:.0f}",
           XL_LONG, XT_LONG, XM_LONG)
add_legend(854, 1669)

# D
ax = px_axes(1133, 48, 1860, 643)
draw_panel(ax, YEARS, D_VAL, D_BAND_YEARS, D_LO, D_HI, 1, (-9, 369),
           [0, 100, 200, 300], [50, 150, 250, 350], "Age-standardized DALYs rate per 100,000", "{:.0f}",
           XL_SHORT, XT_SHORT, XM_SHORT)
add_legend(1893, 211)

# E
ax = px_axes(1126, 778, 1860, 1373)
draw_panel(ax, YEARS, E_VAL, E_BAND_YEARS, E_LO, E_HI, 1, (-0.28, 9.5),
           [0, 2.5, 5.0, 7.5], [1.25, 3.75, 6.25, 8.75], "Age-standardized YLDs rate per 100,000", "{:.1f}",
           XL_SHORT, XT_SHORT, XM_SHORT)
add_legend(1893, 942)

# F
ax = px_axes(1133, 1500, 1860, 2093)
draw_panel(ax, YEARS_LONG, F_VAL, F_BAND_YEARS, F_LO, F_HI, 1, (-10, 400.5),
           [0, 100, 200, 300, 400], [50, 150, 250, 350], "Age-standardized YLLs rate per 100,000", "{:.0f}",
           XL_LONG, XT_LONG, XM_LONG)
add_legend(1893, 1663)

for letter, x, y in [("A", 7, 13), ("B", 7, 733), ("C", 7, 1451),
                     ("D", 1067, 13), ("E", 1067, 733), ("F", 1067, 1451)]:
    fig.text(x / W, 1 - y / H, letter, ha="left", va="top", fontsize=27, fontweight="bold")

fig.savefig("out.png", dpi=100)
